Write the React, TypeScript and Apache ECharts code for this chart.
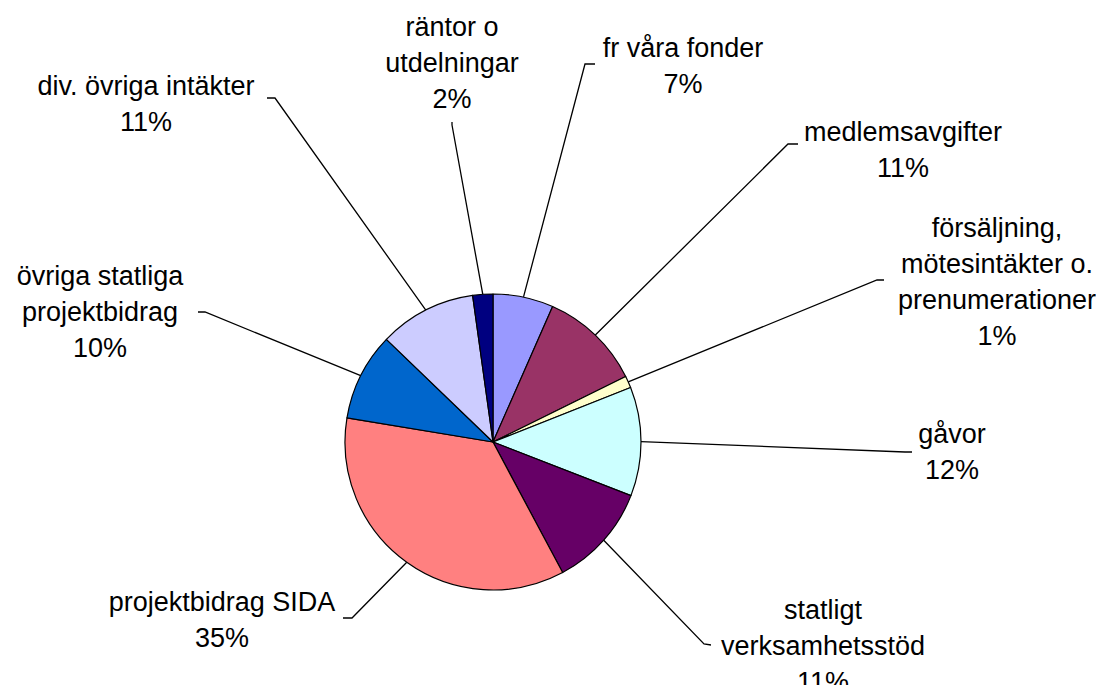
import React, { useEffect, useRef } from "react";
import * as echarts from "echarts";

// Data (share of total income, %)
const categories = [
  "fr våra fonder",
  "medlemsavgifter",
  "försäljning, mötesintäkter o. prenumerationer",
  "gåvor",
  "statligt verksamhetsstöd",
  "projektbidrag SIDA",
  "övriga statliga projektbidrag",
  "div. övriga intäkter",
  "räntor o utdelningar",
];
const values = [6.6, 11.1, 1.3, 11.9, 11.3, 35.4, 9.6, 10.6, 2.2];

// Label text as wrapped in the reference
const labelTexts = [
  "fr våra fonder",
  "medlemsavgifter",
  "försäljning,\nmötesintäkter o.\nprenumerationer",
  "gåvor",
  "statligt\nverksamhetsstöd",
  "projektbidrag SIDA",
  "övriga statliga\nprojektbidrag",
  "div. övriga intäkter",
  "räntor o\nutdelningar",
];

const colors = [
  "#9999FF",
  "#993366",
  "#FFFFCC",
  "#CCFFFF",
  "#660066",
  "#FF8080",
  "#0066CC",
  "#CCCCFF",
  "#000080",
];

// Label block centres and leader-line bend/end points (layout only)
const labelCenters: [number, number][] = [
  [683, 66],
  [903, 150],
  [997, 282],
  [952, 452],
  [823, 646],
  [222, 620],
  [100, 312],
  [146, 104],
  [452, 63],
];
const leaderBends: [number, number][][] = [
  [[585, 64], [595, 64]],
  [[788, 144], [798, 144]],
  [[877, 280], [884, 280]],
  [[905, 452], [912, 452]],
  [[704, 644], [711, 645]],
  [[352, 618], [343, 618]],
  [[205, 312], [198, 312]],
  [[275, 98], [267, 98]],
  [[452, 125], [452, 122]],
];

const CX = 493;
const CY = 442;
const R = 148;

export default function App() {
  const ref = useRef<HTMLDivElement>(null);
  useEffect(() => {
    document.body.style.margin = "0";
    if (!ref.current) return;
    const chart = echarts.init(ref.current, undefined, { renderer: "svg" });
    const total = values.reduce((a, b) => a + b, 0);
    const startPoint = (i: number): [number, number] => {
      let cum = 0;
      for (let k = 0; k < i; k++) cum += values[k];
      const mid = ((cum + values[i] / 2) / total) * Math.PI * 2;
      return [CX + R * Math.sin(mid), CY - R * Math.cos(mid)];
    };
    chart.setOption({
      animation: false,
      backgroundColor: "#ffffff",
      series: [
        {
          type: "pie",
          center: [CX, CY],
          radius: R,
          startAngle: 90,
          clockwise: true,
          avoidLabelOverlap: false,
          data: categories.map((name, i) => ({
            name,
            value: values[i],
            itemStyle: { color: colors[i] },
          })),
          itemStyle: { borderColor: "#000000", borderWidth: 1.2 },
          emphasis: { disabled: true },
          label: {
            show: true,
            position: "outside",
            color: "#000000",
            fontFamily: "Liberation Sans, Arial, sans-serif",
            fontSize: 27,
            lineHeight: 36,
            align: "center",
            overflow: "none",
            formatter: (p: any) =>
              `${labelTexts[p.dataIndex]}\n${Math.round(p.percent)}%`,
          },
          labelLine: {
            show: true,
            lineStyle: { color: "#000000", width: 1.3 },
          },
          labelLayout: (params: any) => {
            const i = params.dataIndex;
            const s = startPoint(i);
            return {
              x: labelCenters[i][0],
              y: labelCenters[i][1],
              align: "center",
              verticalAlign: "middle",
              labelLinePoints: [s, leaderBends[i][0], leaderBends[i][1]],
            };
          },
        },
      ],
    });
    return () => chart.dispose();
  }, []);
  return <div ref={ref} style={{ width: 1096, height: 685 }} />;
}
